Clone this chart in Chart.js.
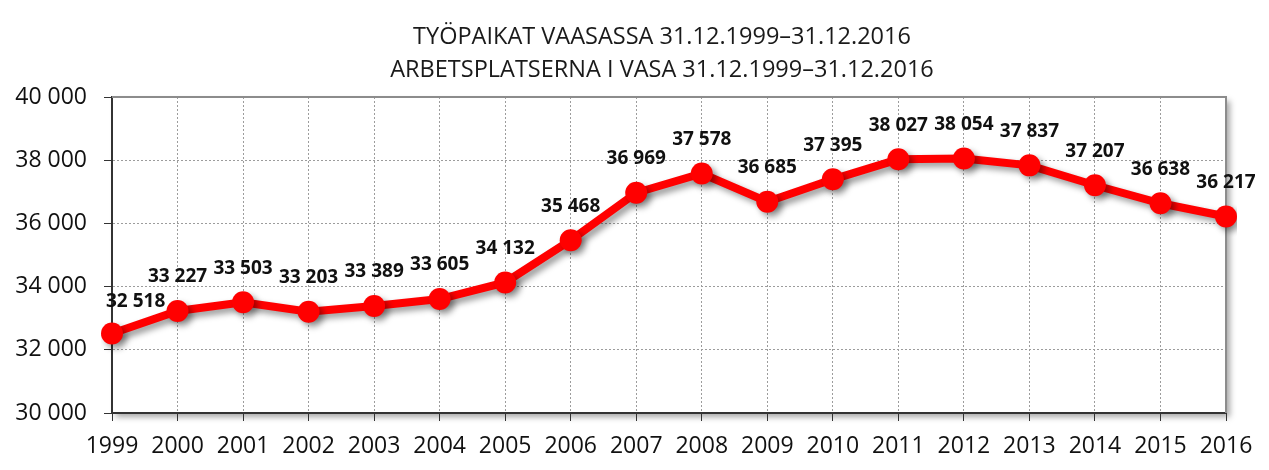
<!DOCTYPE html>
<html>
<head>
<meta charset="utf-8">
<script src="https://cdn.jsdelivr.net/npm/chart.js@4.4.1/dist/chart.umd.min.js"></script>
<style>
  html, body { margin: 0; padding: 0; background: #fff; }
  #wrap { width: 1269px; height: 470px; }
</style>
</head>
<body>
<div id="wrap"><canvas id="jobsChart" width="1269" height="470"></canvas></div>
<script>
// Data
const years = ["1999", "2000", "2001", "2002", "2003", "2004", "2005", "2006", "2007",
  "2008", "2009", "2010", "2011", "2012", "2013", "2014", "2015", "2016"];
const jobs = [32518, 33227, 33503, 33203, 33389, 33605, 34132, 35468, 36969,
  37578, 36685, 37395, 38027, 38054, 37837, 37207, 36638, 36217];
const titleLines = [
  "TYÖPAIKAT VAASASSA 31.12.1999–31.12.2016",
  "ARBETSPLATSERNA I VASA 31.12.1999–31.12.2016"
];
const yMin = 30000;
const yMax = 40000;
const yStep = 2000;

const FONT = "'Open Sans', Lato, sans-serif";

// "32518" -> "32 518"
function fmt(n) {
  return String(n).replace(/\B(?=(\d{3})+(?!\d))/g, " ");
}

// Two-line title, centred over the plot like the original
const titlePlugin = {
  id: "twoLineTitle",
  afterDraw(chart) {
    const ctx = chart.ctx;
    ctx.save();
    ctx.fillStyle = "#1a1a1a";
    ctx.font = "23.5px " + FONT;
    ctx.textAlign = "center";
    ctx.textBaseline = "middle";
    ctx.fillText(titleLines[0], 662, 37);
    ctx.fillText(titleLines[1], 662, 70);
    ctx.restore();
  }
};

// Plot area background with a soft shadow, and the grey top/right frame
const framePlugin = {
  id: "plotFrame",
  beforeDraw(chart) {
    const { ctx, chartArea: a } = chart;
    ctx.save();
    ctx.shadowColor = "rgba(0,0,0,0.35)";
    ctx.shadowBlur = 6;
    ctx.shadowOffsetX = 4;
    ctx.shadowOffsetY = 4;
    ctx.fillStyle = "#fff";
    ctx.fillRect(a.left, a.top, a.right - a.left, a.bottom - a.top);
    ctx.restore();
  },
  beforeDatasetsDraw(chart) {
    const { ctx, chartArea: a } = chart;
    ctx.save();
    ctx.strokeStyle = "#8c8c8c";
    ctx.lineWidth = 2;
    ctx.beginPath();
    ctx.moveTo(a.left, a.top);
    ctx.lineTo(a.right, a.top);
    ctx.lineTo(a.right, a.bottom);
    ctx.stroke();
    ctx.restore();
  }
};

// Drop shadow under the line and markers
const shadowPlugin = {
  id: "lineShadow",
  beforeDatasetDraw(chart) {
    const ctx = chart.ctx;
    ctx.save();
    ctx.shadowColor = "rgba(0,0,0,0.4)";
    ctx.shadowBlur = 6;
    ctx.shadowOffsetX = 4;
    ctx.shadowOffsetY = 4;
  },
  afterDatasetDraw(chart) {
    chart.ctx.restore();
  }
};

// Value labels above the points
const valueLabels = {
  id: "valueLabels",
  afterDatasetsDraw(chart) {
    const ctx = chart.ctx;
    const meta = chart.getDatasetMeta(0);
    ctx.save();
    ctx.fillStyle = "#111";
    ctx.font = "bold 19px " + FONT;
    ctx.textBaseline = "middle";
    meta.data.forEach((pt, i) => {
      const text = fmt(jobs[i]);
      if (i === 0) {
        // first label is pushed right so it clears the axis
        ctx.textAlign = "left";
        ctx.fillText(text, pt.x - 6, pt.y - 32);
      } else {
        ctx.textAlign = "center";
        ctx.fillText(text, pt.x, pt.y - 34);
      }
    });
    ctx.restore();
  }
};

const ctx = document.getElementById("jobsChart").getContext("2d");
new Chart(ctx, {
  type: "line",
  data: {
    labels: years,
    datasets: [
      {
        data: jobs,
        borderColor: "#ff0000",
        backgroundColor: "#ff0000",
        borderWidth: 8,
        pointRadius: 11,
        pointHoverRadius: 11,
        pointBackgroundColor: "#ff0000",
        pointBorderWidth: 0,
        tension: 0,
        fill: false
      }
    ]
  },
  options: {
    responsive: false,
    animation: false,
    layout: { padding: { top: 97, right: 43, left: 0, bottom: 0 } },
    plugins: {
      legend: { display: false },
      title: { display: false },
      tooltip: { enabled: false }
    },
    scales: {
      x: {
        offset: false,
        grid: {
          color: "#9c9c9c",
          lineWidth: 1,
          tickColor: "#333",
          tickLength: 8,
          tickBorderDash: []
        },
        border: { color: "#333", width: 2, dash: [2, 2] },
        ticks: {
          color: "#111",
          font: { family: FONT, size: 23 },
          padding: 12,
          maxRotation: 0,
          autoSkip: false
        },
        afterFit(scale) {
          scale.height = 57;
        }
      },
      y: {
        min: yMin,
        max: yMax,
        grid: {
          color: "#9c9c9c",
          lineWidth: 1,
          tickColor: "#333",
          tickLength: 8,
          tickBorderDash: []
        },
        border: { color: "#333", width: 2, dash: [2, 2] },
        ticks: {
          stepSize: yStep,
          color: "#111",
          font: { family: FONT, size: 23 },
          padding: 17,
          callback: (v) => fmt(v)
        },
        afterFit(scale) {
          scale.width = 112;
        }
      }
    }
  },
  plugins: [framePlugin, shadowPlugin, valueLabels, titlePlugin]
});
</script>
</body>
</html>
